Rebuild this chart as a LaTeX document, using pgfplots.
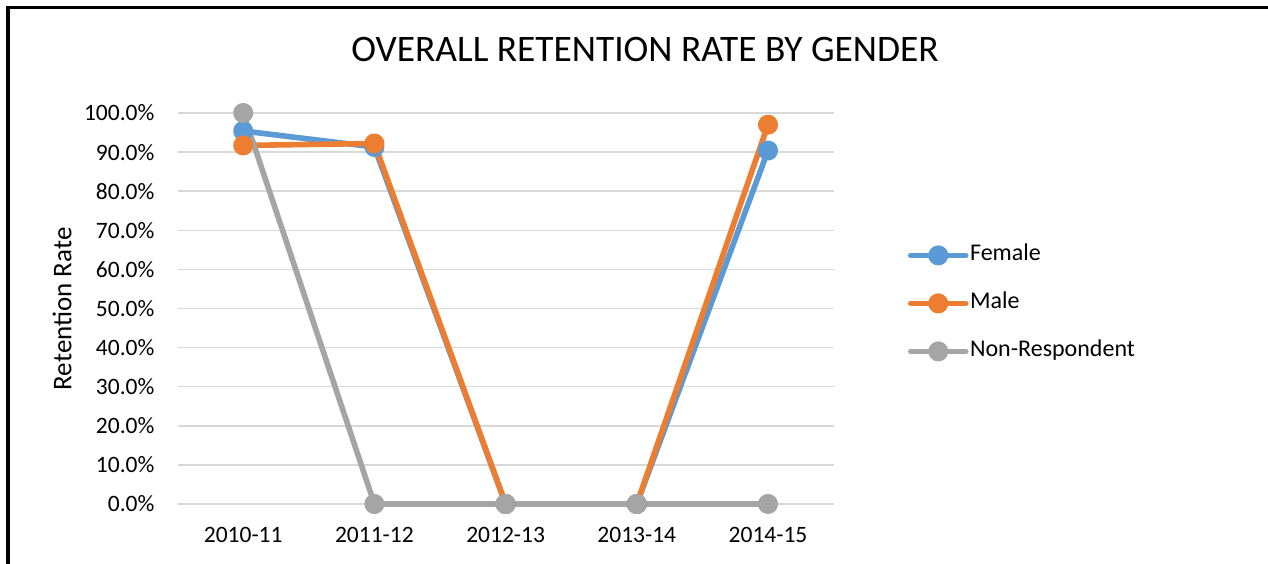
\documentclass[border=0pt]{standalone}
\usepackage{pgfplots}
\pgfplotsset{compat=1.18}
\usepackage{fontspec}
\setmainfont{Carlito}
\definecolor{cfem}{HTML}{5B9BD5}
\definecolor{cmale}{HTML}{ED7D31}
\definecolor{cnon}{HTML}{A5A5A5}
\definecolor{cgrid}{HTML}{D9D9D9}
\begin{document}
\begin{tikzpicture}[x=1bp,y=1bp]
\path[use as bounding box] (0,0) rectangle (1268,564);
\draw[line width=3.5bp] (8,0) -- (8,556.5) -- (1268,556.5);
\begin{axis}[
  at={(177.6bp,60bp)}, anchor=south west,
  scale only axis, width=656bp, height=391bp,
  xmin=-0.5, xmax=4.5, ymin=0, ymax=100,
  clip=false,
  axis line style={draw=none},
  major tick length=0pt,
  xtick={0,1,2,3,4},
  xticklabels={2010-11,2011-12,2012-13,2013-14,2014-15},
  ytick={0,10,...,100},
  yticklabel={\pgfmathprintnumber[fixed,fixed zerofill,precision=1]{\tick}\%},
  /pgf/number format/assume math mode=true,
  ymajorgrids,
  grid style={cgrid, line width=1.5bp},
  tick label style={font=\fontsize{23.5bp}{28bp}\selectfont, inner sep=0pt},
  yticklabel style={anchor=east, xshift=-23bp},
  xticklabel style={anchor=center, yshift=-31bp},
  title={OVERALL RETENTION RATE BY GENDER},
  title style={at={(axis description cs:0.7125,1.146)}, anchor=center, font=\fontsize{37.4bp}{42bp}\selectfont, inner sep=0pt},
  ylabel={Retention Rate},
  ylabel style={at={(axis description cs:-0.176,0.499)}, anchor=center, rotate=0, font=\fontsize{27bp}{30bp}\selectfont, inner sep=0pt},
  every axis plot/.append style={line width=5.6bp, line join=round, line cap=round, mark=*, mark size=7.2bp, mark options={solid}},
  legend style={at={(axis description cs:1.1085,0.513)}, anchor=west, draw=none, fill=none,
    font=\fontsize{24bp}{28bp}\selectfont, row sep=27bp, column sep=1.5bp,
    nodes={inner sep=0pt, text height=16bp, text depth=5bp}},
  legend cell align=left,
  legend image code/.code={\draw[mark repeat=2, mark phase=2, #1] plot coordinates {(0bp,0bp) (27.5bp,0bp) (55bp,0bp)};},
]
\addplot[color=cfem] coordinates {(0,95.4) (1,91.3) (2,0) (3,0) (4,90.4)};
\addlegendentry{Female}
\addplot[color=cmale] coordinates {(0,91.7) (1,92.2) (2,0) (3,0) (4,97.0)};
\addlegendentry{Male}
\addplot[color=cnon] coordinates {(0,100) (1,0) (2,0) (3,0) (4,0)};
\addlegendentry{Non-Respondent}
\end{axis}
\end{tikzpicture}
\end{document}
